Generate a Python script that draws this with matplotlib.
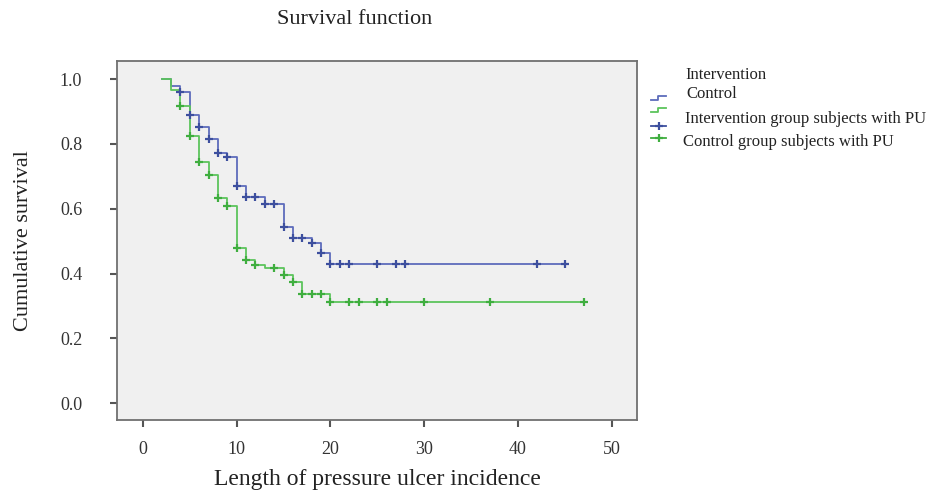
import numpy as np
import matplotlib
matplotlib.use("Agg")
import matplotlib.pyplot as plt
from matplotlib.lines import Line2D

# Kaplan-Meier steps
int_times = [2, 3, 4, 5, 6, 7, 8, 9, 10, 11, 13, 15, 16, 18, 19, 20, 45]
int_surv = [1.0, 0.98, 0.96, 0.89, 0.853, 0.814, 0.773, 0.76, 0.67, 0.637,
            0.615, 0.543, 0.51, 0.493, 0.464, 0.431, 0.431]
int_censor = [4, 5, 6, 7, 8, 9, 10, 11, 12, 13, 14, 15, 16, 17, 18, 19,
              20, 21, 22, 25, 27, 28, 42, 45]

ctl_times = [2, 3, 4, 5, 6, 7, 8, 9, 10, 11, 12, 13, 15, 16, 17, 20, 47]
ctl_surv = [1.0, 0.965, 0.916, 0.825, 0.745, 0.704, 0.634, 0.608, 0.48,
            0.442, 0.426, 0.418, 0.395, 0.375, 0.337, 0.313, 0.313]
ctl_censor = [4, 5, 6, 7, 8, 9, 10, 11, 12, 14, 15, 16, 17, 18, 19, 20,
              22, 23, 25, 26, 30, 37, 47]

x_ticks = [0, 10, 20, 30, 40, 50]
y_ticks = [0.0, 0.2, 0.4, 0.6, 0.8, 1.0]

legend_labels = ["Intervention", "Control",
                 "Intervention group subjects with PU",
                 "Control group subjects with PU"]

blue = "#5d6cbb"
blue_mk = "#3d4f9e"
green = "#5cc45c"
green_mk = "#3fae3f"
serif = ["Liberation Serif", "DejaVu Serif"]

plt.rcParams["font.family"] = serif

W, H = 933, 493
fig = plt.figure(figsize=(W / 100, H / 100), dpi=100)
ax = fig.add_axes([117 / W, 1 - 420 / H, (637 - 117) / W, (420 - 61) / H])
ax.set_facecolor("#f0f0f0")


def at_time(times, surv, c):
    i = np.searchsorted(times, c, side="right") - 1
    return surv[i]


ax.step(int_times, int_surv, where="post", color=blue, lw=1.3)
ax.step(ctl_times, ctl_surv, where="post", color=green, lw=1.3)
ax.plot(int_censor, [at_time(int_times, int_surv, c) for c in int_censor],
        "+", color=blue_mk, ms=6, mew=1.6)
ax.plot(ctl_censor, [at_time(ctl_times, ctl_surv, c) for c in ctl_censor],
        "+", color=green_mk, ms=6, mew=1.6)

ax.set_xlim(-2.77, 52.7)
ax.set_ylim(-0.052, 1.056)
ax.set_xticks(x_ticks)
ax.set_yticks(y_ticks)
ax.set_xticklabels([str(v) for v in x_ticks])
ax.set_yticklabels([f"{v:.1f}" for v in y_ticks])
ax.tick_params(direction="out", length=5, width=1.5, colors="#555555",
               labelsize=13, labelcolor="#333333")
ax.tick_params(axis="x", pad=10)
ax.tick_params(axis="y", pad=20)
for s in ax.spines.values():
    s.set_color("#707070")
    s.set_linewidth(1.3)

ax.set_xlabel("Length of pressure ulcer incidence", fontsize=17,
              color="#222222", va="top")
ax.xaxis.set_label_coords(0.5, (420 - 469) / 359)
ax.set_ylabel("Cumulative survival", fontsize=16, color="#222222")
ax.yaxis.set_label_coords((33 - 117) / 520, 0.5)
fig.text(355 / W, 1 - 19 / H, "Survival function", ha="center",
         va="center", fontsize=16, color="#222222")

# legend drawn by hand to keep the offset layout of the original
def fx(px):
    return px / W


def fy(py):
    return 1 - py / H


text_pos = [(685, 75), (686, 94), (685, 119), (683, 142)]
for (px, py), lab in zip(text_pos, legend_labels):
    fig.text(fx(px), fy(py), lab, ha="left", va="center", fontsize=12,
             color="#222222")

for col, py in [(blue, 98), (green, 110)]:
    fig.add_artist(Line2D([fx(651), fx(658), fx(658), fx(666)],
                          [fy(py + 2), fy(py + 2), fy(py - 2), fy(py - 2)],
                          color=col, lw=1.3, transform=fig.transFigure))
for col, py in [(blue_mk, 126), (green_mk, 138)]:
    fig.add_artist(Line2D([fx(651), fx(666)], [fy(py), fy(py)],
                          color=col, lw=1.3, transform=fig.transFigure))
    fig.add_artist(Line2D([fx(658.5)], [fy(py)], marker="+", ms=6, mew=1.6,
                          color=col, transform=fig.transFigure))

fig.savefig("out.png", dpi=100)
